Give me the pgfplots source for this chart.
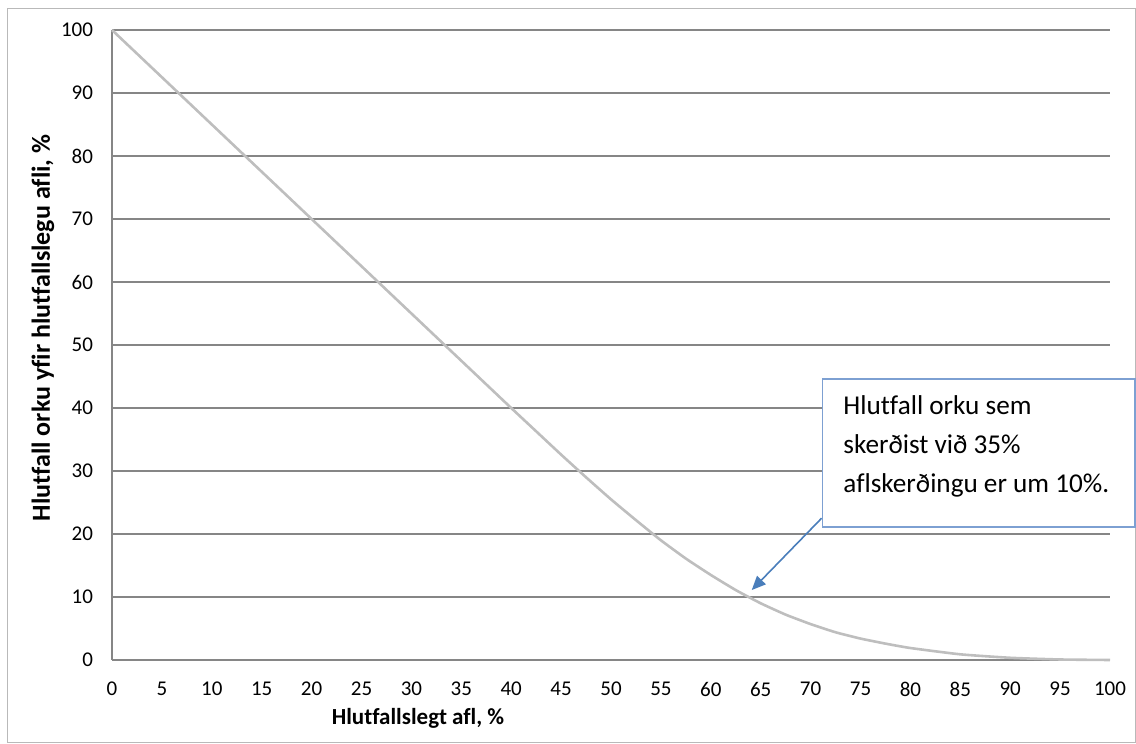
\documentclass[border=0pt]{standalone}
\usepackage{fontspec}
\setmainfont{Carlito}[Ligatures=CommonOff]
\usepackage{pgfplots}
\pgfplotsset{compat=1.18}
\usetikzlibrary{arrows.meta}
\definecolor{gridc}{RGB}{134,134,134}
\definecolor{linec}{RGB}{190,190,190}
\definecolor{boxc}{RGB}{125,160,210}
\definecolor{arrc}{RGB}{74,126,187}
\begin{document}
\begin{tikzpicture}
\path[use as bounding box] (-56pt,-42pt) rectangle (512pt,330pt);
\draw[gray!55, line width=0.5pt] (-52pt,-41.5pt) rectangle (511.5pt,325.5pt);
\begin{axis}[
  at={(0,0)}, anchor=south west,
  width=499pt, height=315pt, scale only axis,
  xmin=0, xmax=100, ymin=0, ymax=100,
  xtick={0,5,...,100}, ytick={0,10,...,100},
  axis x line*=bottom, axis y line*=left,
  axis line style={gridc, line width=0.6pt},
  ymajorgrids, major grid style={gridc, line width=0.6pt},
  major tick length=0pt,
  tick label style={font=\fontsize{10.5}{12}\selectfont},
  /pgf/number format/assume math mode=true,
  xticklabel style={yshift=-7.5pt},
  yticklabel style={xshift=-6pt},
  clip=false,
]
\addplot[linec, line width=1.3pt, smooth, tension=0.3] coordinates {
(0,100) (5,92.5) (10,85) (15,77.5) (20,70) (25,62.5) (30,55) (35,47.5)
(40,40) (42.5,36.3) (45,32.6) (47.5,29) (50,25.5) (52.5,22.2) (55,19)
(57.5,16.1) (60,13.5) (62.5,11.1) (65,9) (67.5,7.2) (70,5.7) (72.5,4.4)
(75,3.4) (77.5,2.6) (80,1.9) (85,0.9) (90,0.35) (95,0.08) (100,0)
};
\draw[arrc, line width=0.8pt, -{Triangle[length=7pt,width=6pt]}] (axis cs:71.1,22.5) -- (axis cs:64.1,11.1);
\end{axis}
\draw[boxc, fill=white, line width=0.6pt] (355.3pt,66.5pt) rectangle (511.5pt,140.5pt);
\begin{scope}[every node/.style={anchor=base west, inner sep=0pt, font=\fontsize{13.6}{15}\selectfont}]
\node at (365.5pt,122.5pt) {Hlutfall orku sem};
\node at (365.5pt,103pt) {skerðist við 35\%};
\node at (365.5pt,83.7pt) {aflskerðingu er um 10\%.};
\end{scope}
\node[font=\bfseries\fontsize{11.5}{13}\selectfont] at (153pt,-29pt) {Hlutfallslegt afl, \%};
\node[font=\bfseries\fontsize{13}{15}\selectfont, rotate=90] at (-34.5pt,166pt) {Hlutfall orku yfir hlutfallslegu afli, \%};
\end{tikzpicture}
\end{document}
